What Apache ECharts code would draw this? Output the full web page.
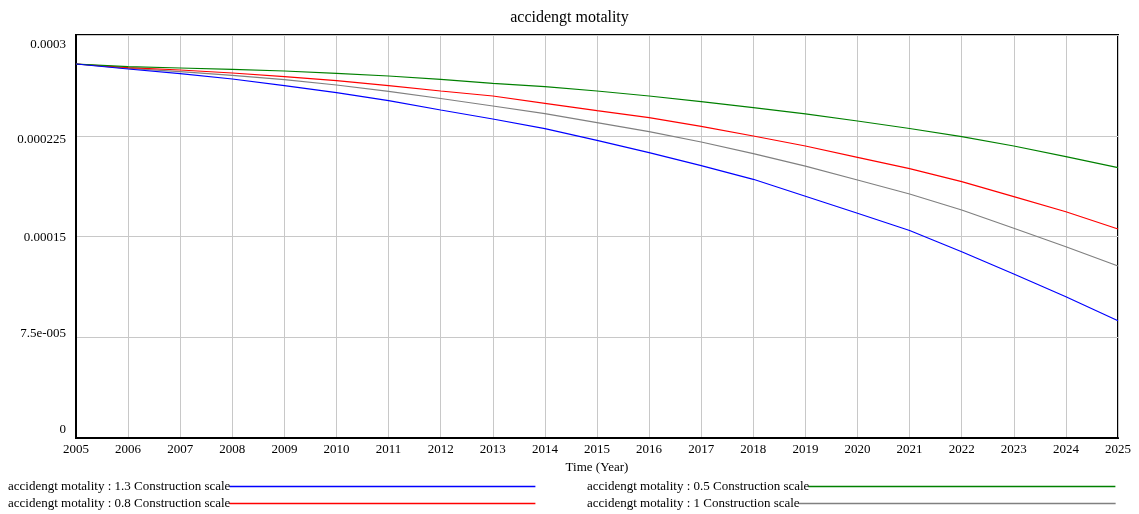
<!DOCTYPE html>
<html>
<head>
<meta charset="utf-8">
<script src="https://cdn.jsdelivr.net/npm/echarts@6/dist/echarts.min.js"></script>
<style>html,body{margin:0;padding:0;background:#fff}#c{width:1139px;height:514px}</style>
</head>
<body>
<div id="c"></div>
<script>
const years = [2005,2006,2007,2008,2009,2010,2011,2012,2013,2014,2015,2016,2017,2018,2019,2020,2021,2022,2023,2024,2025];
const scale13 = [2.7841e-4,2.7469e-4,2.7119e-4,2.6725e-4,2.6226e-4,2.5705e-4,2.5109e-4,2.4417e-4,2.3747e-4,2.3025e-4,2.2161e-4,2.1239e-4,2.0271e-4,1.9258e-4,1.7993e-4,1.6727e-4,1.5447e-4,1.3869e-4,1.2208e-4,1.0519e-4,0.8732e-4];
const scale05 = [2.7841e-4,2.7640e-4,2.7544e-4,2.7447e-4,2.7320e-4,2.7149e-4,2.6948e-4,2.6702e-4,2.6405e-4,2.6152e-4,2.5831e-4,2.5459e-4,2.5035e-4,2.4588e-4,2.4134e-4,2.3598e-4,2.3040e-4,2.2429e-4,2.1737e-4,2.0941e-4,2.0122e-4];
const scale08 = [2.7841e-4,2.7566e-4,2.7395e-4,2.7171e-4,2.6896e-4,2.6598e-4,2.6226e-4,2.5831e-4,2.5459e-4,2.4916e-4,2.4365e-4,2.3844e-4,2.3203e-4,2.2481e-4,2.1737e-4,2.0896e-4,2.0047e-4,1.9080e-4,1.7963e-4,1.6846e-4,1.5558e-4];
const scale10 = [2.7841e-4,2.7521e-4,2.7268e-4,2.7000e-4,2.6673e-4,2.6278e-4,2.5809e-4,2.5273e-4,2.4715e-4,2.4142e-4,2.3472e-4,2.2802e-4,2.2035e-4,2.1164e-4,2.0233e-4,1.9206e-4,1.8164e-4,1.6973e-4,1.5611e-4,1.4241e-4,1.2804e-4];
const yTickLabels = ['0','7.5e-005','0.00015','0.000225','0.0003'];
const seriesNames = [
  'accidengt motality : 1.3 Construction scale',
  'accidengt motality : 0.5 Construction scale',
  'accidengt motality : 0.8 Construction scale',
  'accidengt motality : 1 Construction scale'
];
const colors = ['#0000ff','#008000','#ff0000','#808080'];
const FONT = "'Liberation Serif','Times New Roman',serif";

function pairs(arr){ return years.map((y,i)=>[y,arr[i]]); }
const dataSets = [scale13, scale05, scale08, scale10];

// legend placement: [series index, left, top, line width]
const legendSlots = [[0,8,480,306],[2,8,497,306],[1,587,480,307],[3,587,497,317]];

const chart = echarts.init(document.getElementById('c'));
chart.setOption({
  animation:false,
  title:{text:'accidengt motality', left:'center', top:5, textStyle:{fontFamily:FONT, fontSize:16, fontWeight:'normal', color:'#000'}},
  grid:{left:76, right:21, top:35, bottom:76, show:true, borderColor:'#000', borderWidth:2, backgroundColor:'transparent'},
  legend: legendSlots.map(s=>({
    orient:'horizontal', align:'right', icon:'rect', itemHeight:1.5, itemWidth:s[3],
    padding:0, selectedMode:false, left:s[1], top:s[2],
    data:[{name:seriesNames[s[0]], icon:'rect', itemStyle:{color:colors[s[0]], borderWidth:0, opacity:1}}],
    textStyle:{fontFamily:FONT, fontSize:13, color:'#000', padding:[0,-6,0,0]}
  })),
  xAxis:{type:'value', min:2005, max:2025, interval:1,
    name:'Time (Year)', nameLocation:'middle', nameGap:19,
    nameTextStyle:{fontFamily:FONT, fontSize:13, color:'#000'},
    axisLine:{show:true, lineStyle:{color:'#000', width:2}}, axisTick:{show:false},
    axisLabel:{fontFamily:FONT, fontSize:13, color:'#000', margin:5, formatter:v=>String(v)},
    splitLine:{show:true, lineStyle:{color:'#c8c8c8', width:1}}},
  yAxis:{type:'value', min:0, max:0.0003, interval:0.000075,
    axisLine:{show:true, lineStyle:{color:'#000', width:2}}, axisTick:{show:false},
    axisLabel:{fontFamily:FONT, fontSize:13, color:'#000', margin:10,
      formatter:function(v){ const i=Math.round(v/0.000075); return '{s'+i+'|'+yTickLabels[i]+'}'; },
      rich:{
        s0:{fontFamily:FONT, fontSize:13, color:'#000', padding:[0,0,16,0]},
        s1:{fontFamily:FONT, fontSize:13, color:'#000', padding:[0,0,8,0]},
        s2:{fontFamily:FONT, fontSize:13, color:'#000', padding:[2,0,0,0]},
        s3:{fontFamily:FONT, fontSize:13, color:'#000', padding:[8,0,0,0]},
        s4:{fontFamily:FONT, fontSize:13, color:'#000', padding:[20,0,0,0]}
      }},
    splitLine:{show:true, lineStyle:{color:'#c8c8c8', width:1}}},
  series: seriesNames.map((n,i)=>({
    name:n, type:'line', data:pairs(dataSets[i]), showSymbol:false, smooth:false,
    color:colors[i], itemStyle:{color:colors[i]}, lineStyle:{color:colors[i], width:1.2}, z: 10 - i
  })).reverse()
});
</script>
</body>
</html>
